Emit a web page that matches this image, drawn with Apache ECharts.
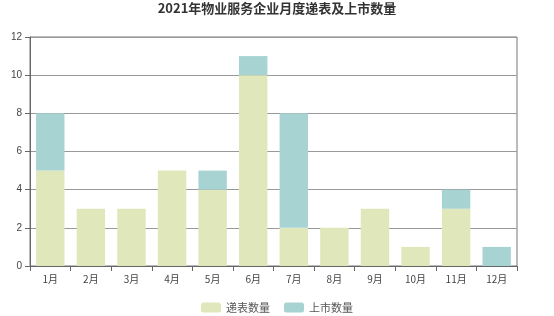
<!DOCTYPE html>
<html><head><meta charset="utf-8">
<script src="https://cdn.jsdelivr.net/npm/echarts@6/dist/echarts.min.js"></script>
<style>html,body{margin:0;padding:0;background:#fff}#c{width:554px;height:316px}</style>
</head><body><div id="c"></div>
<script>
const categories = ['1月','2月','3月','4月','5月','6月','7月','8月','9月','10月','11月','12月'];
const filingCounts = [5,3,3,5,4,10,2,2,3,1,3,0];
const listingCounts = [3,0,0,0,1,1,6,0,0,0,1,1];
const yTicks = {min:0, max:12, interval:2};

const chart = echarts.init(document.getElementById('c'));
chart.setOption({
  animation:false,
  title:{text:'2021年物业服务企业月度递表及上市数量',left:'center',top:-3,
    textStyle:{fontSize:13,fontWeight:'bold',color:'#333',fontFamily:'Noto Sans CJK SC'}},
  grid:{left:30,right:37,top:37,bottom:50,show:true,borderColor:'#777',borderWidth:1},
  legend:{bottom:-2,itemWidth:20,itemHeight:10,itemGap:14,
    textStyle:{fontSize:11,color:'#555',fontFamily:'Noto Sans CJK SC'},
    data:['递表数量','上市数量']},
  xAxis:{type:'category',data:categories,
    axisLine:{lineStyle:{color:'#666'}},
    axisTick:{show:true,lineStyle:{color:'#666'}},
    axisLabel:{fontSize:10,color:'#444',fontFamily:'Noto Sans CJK SC'}},
  yAxis:{type:'value',min:yTicks.min,max:yTicks.max,interval:yTicks.interval,
    axisLine:{show:true,lineStyle:{color:'#666'}},
    axisTick:{show:true,lineStyle:{color:'#666'}},
    axisLabel:{fontSize:10,color:'#444'},
    splitLine:{lineStyle:{color:'#999'}}},
  series:[
    {name:'递表数量',type:'bar',stack:'t',data:filingCounts,barWidth:'70%',
      itemStyle:{color:'#e0e7ba'}},
    {name:'上市数量',type:'bar',stack:'t',data:listingCounts,barWidth:'70%',
      itemStyle:{color:'#a8d3d3'}}
  ]
});
</script></body></html>
